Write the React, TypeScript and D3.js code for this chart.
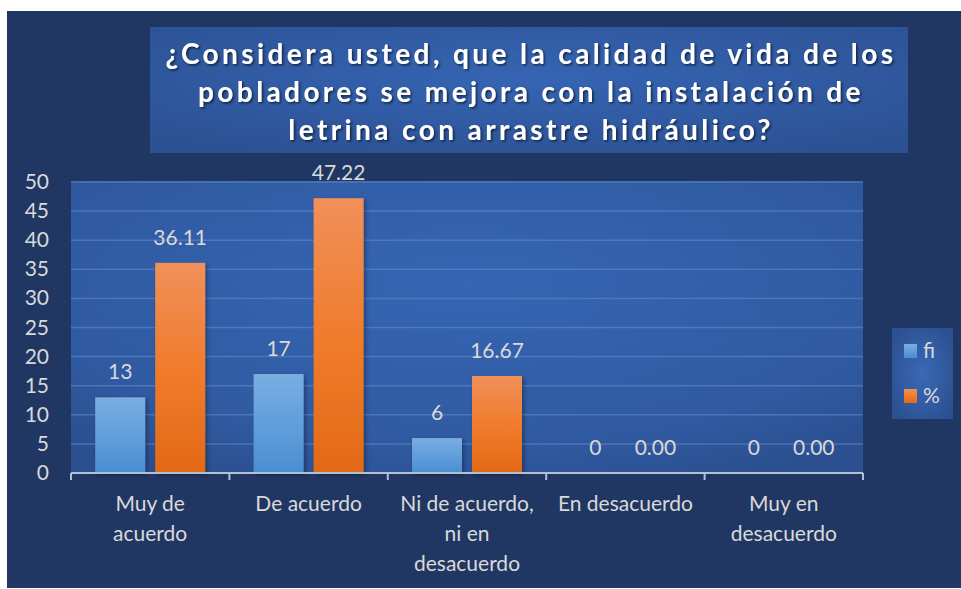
import React from "react";
import * as d3 from "d3";

const categories: string[][] = [
  ["Muy de", "acuerdo"],
  ["De acuerdo"],
  ["Ni de acuerdo,", "ni en", "desacuerdo"],
  ["En desacuerdo"],
  ["Muy en", "desacuerdo"],
];
const fiValues = [13, 17, 6, 0, 0];
const pctValues = [36.11, 47.22, 16.67, 0, 0];
const seriesNames = ["fi", "%"];
const yTicks = [0, 5, 10, 15, 20, 25, 30, 35, 40, 45, 50];
const titleLines = [
  "¿Considera usted, que la calidad de vida de los",
  "pobladores se mejora con la instalación de",
  "letrina con arrastre hidráulico?",
];

const W = 961;
const H = 589;
const plot = { left: 71, right: 863, top: 182, bottom: 473 };
const FONT = "Lato, 'Open Sans', sans-serif";
const LABEL = "#d9d9d9";

export default function App() {
  const x = d3
    .scaleBand<number>()
    .domain(d3.range(categories.length))
    .range([plot.left, plot.right])
    .paddingInner(0)
    .paddingOuter(0);
  const y = d3.scaleLinear().domain([0, 50]).range([plot.bottom, plot.top]);
  const bw = x.bandwidth();
  const barW = 50;
  const gap = 10;
  const series = [
    { name: seriesNames[0], values: fiValues, fill: "url(#gFi)", fmt: (v: number) => String(v) },
    { name: seriesNames[1], values: pctValues, fill: "url(#gPct)", fmt: (v: number) => v.toFixed(2) },
  ];
  const barX = (i: number, s: number) =>
    (x(i) as number) + bw / 2 - (barW * 2 + gap) / 2 + s * (barW + gap);

  return (
    <svg
      width={W}
      height={H}
      style={{ position: "absolute", left: 0, top: 0, background: "#fff" }}
      fontFamily={FONT}
    >
      <defs>
        <radialGradient id="gPlot" cx="0.5" cy="0.35" r="0.75">
          <stop offset="0" stopColor="#3565b3" />
          <stop offset="0.7" stopColor="#305ba3" />
          <stop offset="1" stopColor="#2b4f8f" />
        </radialGradient>
        <radialGradient id="gTitle" cx="0.5" cy="0.4" r="0.7">
          <stop offset="0" stopColor="#3665b4" />
          <stop offset="1" stopColor="#2c5193" />
        </radialGradient>
        <radialGradient id="gLeg" cx="0.5" cy="0.5" r="0.6">
          <stop offset="0" stopColor="#3a69b6" />
          <stop offset="1" stopColor="#2c5193" />
        </radialGradient>
        <linearGradient id="gFi" x1="0" y1="0" x2="0" y2="1">
          <stop offset="0" stopColor="#7aaee2" />
          <stop offset="1" stopColor="#4a8ed3" />
        </linearGradient>
        <linearGradient id="gPct" x1="0" y1="0" x2="0" y2="1">
          <stop offset="0" stopColor="#f0905a" />
          <stop offset="0.5" stopColor="#f07c2c" />
          <stop offset="1" stopColor="#e26916" />
        </linearGradient>
        <filter id="shadow" x="-20%" y="-20%" width="140%" height="140%">
          <feDropShadow dx="2" dy="2" stdDeviation="2" floodColor="#000" floodOpacity="0.35" />
        </filter>
        <filter id="tshadow" x="-5%" y="-20%" width="110%" height="140%">
          <feDropShadow dx="1.5" dy="1.5" stdDeviation="1" floodColor="#000" floodOpacity="0.6" />
        </filter>
      </defs>

      <rect x={7} y={11} width={W - 7} height={577} fill="#213763" />

      {/* Title */}
      <rect x={150} y={27} width={758} height={126} fill="url(#gTitle)" />
      <g filter="url(#tshadow)">
        {titleLines.map((t, i) => (
          <text
            key={i}
            x={531}
            y={64 + i * 38}
            textAnchor="middle"
            fontSize={28}
            fontWeight="bold"
            letterSpacing={3.4}
            fill="#ffffff"
          >
            {t}
          </text>
        ))}
      </g>

      {/* Plot area */}
      <rect
        x={plot.left}
        y={plot.top - 1}
        width={plot.right - plot.left}
        height={plot.bottom - plot.top + 1}
        fill="url(#gPlot)"
      />
      {yTicks.map((t) => (
        <line
          key={t}
          x1={plot.left}
          x2={plot.right}
          y1={y(t)}
          y2={y(t)}
          stroke="#6d8fc8"
          strokeOpacity={0.5}
          strokeWidth={1.5}
        />
      ))}
      {yTicks.map((t) => (
        <text key={"yl" + t} x={49} y={y(t) + 7} textAnchor="end" fontSize={21} fill={LABEL}>
          {t}
        </text>
      ))}

      {/* Bars */}
      {series.map((s, si) =>
        s.values.map((v, i) => (
          <g key={si + "-" + i}>
            {v > 0 && (
              <rect
                x={barX(i, si)}
                y={y(v)}
                width={barW}
                height={y(0) - y(v)}
                fill={s.fill}
                filter="url(#shadow)"
              />
            )}
            <text
              x={barX(i, si) + barW / 2}
              y={y(v) - 18}
              textAnchor="middle"
              fontSize={21}
              fill={LABEL}
            >
              {s.fmt(v)}
            </text>
          </g>
        ))
      )}

      {/* X axis */}
      <line x1={plot.left} x2={plot.right} y1={plot.bottom} y2={plot.bottom} stroke="#b4bfd3" strokeWidth={2} />
      {d3.range(categories.length + 1).map((i) => {
        const xx = i < categories.length ? (x(i) as number) : plot.right;
        return (
          <line key={"tk" + i} x1={xx} x2={xx} y1={plot.bottom} y2={plot.bottom + 7} stroke="#b4bfd3" strokeWidth={2} />
        );
      })}
      {categories.map((lines, i) => (
        <text
          key={"c" + i}
          x={(x(i) as number) + bw / 2}
          textAnchor="middle"
          fontSize={21}
          fill={LABEL}
        >
          {lines.map((l, j) => (
            <tspan key={j} x={(x(i) as number) + bw / 2} y={511 + j * 30}>
              {l}
            </tspan>
          ))}
        </text>
      ))}

      {/* Legend */}
      <rect x={892} y={328} width={61} height={91} fill="url(#gLeg)" />
      {series.map((s, si) => (
        <g key={"lg" + si}>
          <rect x={904} y={344 + si * 45} width={13} height={14} fill={s.fill} />
          <text x={923} y={358 + si * 45} fontSize={21} fill={LABEL}>
            {s.name}
          </text>
        </g>
      ))}
    </svg>
  );
}
